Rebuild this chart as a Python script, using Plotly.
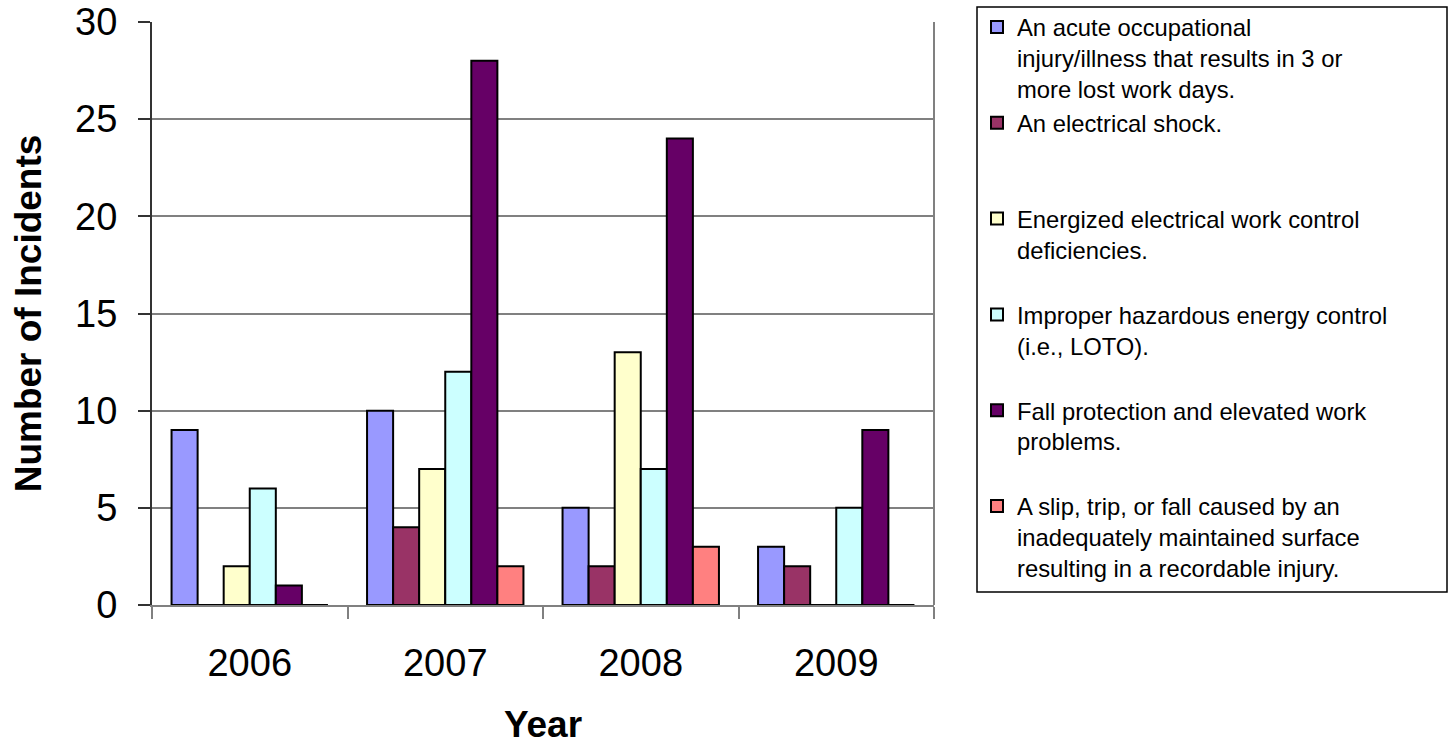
import plotly.graph_objects as go

years = ["2006", "2007", "2008", "2009"]
series_names = [
    "An acute occupational<br>injury/illness that results in 3 or<br>more lost work days.",
    "An electrical shock.<br> <br> ",
    "Energized electrical work control<br>deficiencies.<br> ",
    "Improper hazardous energy control<br>(i.e., LOTO).<br> ",
    "Fall protection and elevated work<br>problems.<br> ",
    "A slip, trip, or fall caused by an<br>inadequately maintained surface<br>resulting in a recordable injury.",
]
acute = [9, 10, 5, 3]
shock = [0, 4, 2, 2]
energized = [2, 7, 13, 0]
loto = [6, 12, 7, 5]
fall = [1, 28, 24, 9]
slip = [0, 2, 3, 0]
series_values = [acute, shock, energized, loto, fall, slip]
colors = ["#9999FF", "#993366", "#FFFFCC", "#CCFFFF", "#660066", "#FF8080"]

FONT = "Liberation Sans, Arial, sans-serif"

fig = go.Figure()
for name, vals, col in zip(series_names, series_values, colors):
    fig.add_trace(go.Bar(
        x=years, y=vals, name=name,
        marker=dict(color=col, line=dict(color="black", width=2)),
    ))

W, H = 1451, 745
L, T = 152, 22
pw, ph = 934 - 152, 605 - 22
R = W - L - pw
B = H - T - ph

def px_x(x):
    return (x - L) / pw

def px_y(y):
    return (T + ph - y) / ph

fig.update_layout(
    width=W, height=H,
    margin=dict(l=L, r=R, t=T, b=B, pad=0),
    paper_bgcolor="white", plot_bgcolor="white",
    barmode="group", bargap=0.2, bargroupgap=0,
    font=dict(family=FONT, color="black"),
    legend=dict(
        xref="container", yref="container",
        x=977 / W, y=1 - 5 / H, xanchor="left", yanchor="top",
        font=dict(size=23.8, family=FONT, color="black"),
        bgcolor="rgba(0,0,0,0)", borderwidth=0,
        valign="top", traceorder="normal", itemclick=False,
        maxheight=730,
    ),
    showlegend=True,
    xaxis=dict(
        type="category",
        showline=True, linecolor="#808080", linewidth=2,
        ticks="outside", tickson="boundaries", ticklen=12, tickwidth=2, tickcolor="#808080",
        tickfont=dict(size=38, family=FONT, color="black"),
        ticklabelstandoff=23, ticklabeloverflow="allow",
        showgrid=False,
        title=dict(text="<b>Year</b>", font=dict(size=37, family=FONT, color="black"), standoff=32),
        automargin=False,
    ),
    yaxis=dict(
        range=[0, 30], tickvals=[0, 5, 10, 15, 20, 25, 30],
        showline=True, linecolor="#333333", linewidth=2,
        ticks="outside", ticklen=12, tickwidth=2, tickcolor="#333333",
        tickfont=dict(size=38, family=FONT, color="black"),
        ticklabelstandoff=13, ticklabeloverflow="allow",
        showgrid=True, gridcolor="#808080", gridwidth=2,
        zeroline=False,
        title=dict(text="<b>Number of Incidents</b>", font=dict(size=37, family=FONT, color="black"), standoff=22),
        automargin=False,
    ),
    shapes=[
        dict(type="line", xref="paper", yref="paper", x0=1, x1=1, y0=0, y1=1,
             line=dict(color="#808080", width=2)),
        dict(type="rect", xref="paper", yref="paper",
             x0=px_x(977), x1=px_x(1447), y0=px_y(592), y1=px_y(7),
             line=dict(color="black", width=1.5), fillcolor="rgba(0,0,0,0)"),
    ],
)

fig.write_html("out.html", config={"displayModeBar": False},
               post_script="document.body.style.margin='0';")
